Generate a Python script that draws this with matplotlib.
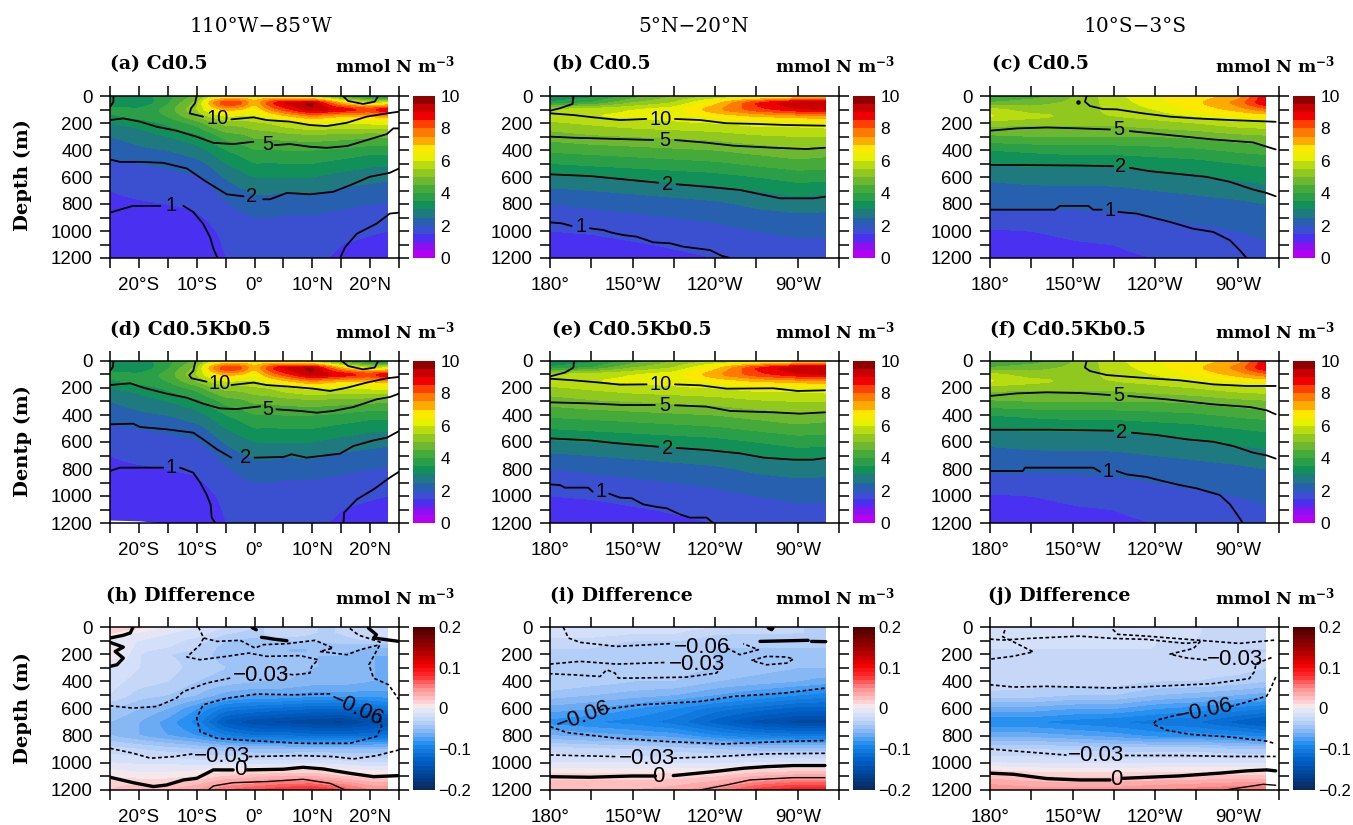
import numpy as np
import matplotlib
matplotlib.use("Agg")
import matplotlib.pyplot as plt
from matplotlib.cm import ScalarMappable
from matplotlib.colors import BoundaryNorm, ListedColormap, LinearSegmentedColormap

W, H = 1353, 825
plt.rcParams["font.family"] = ["Liberation Sans", "DejaVu Sans"]
plt.rcParams["mathtext.fontset"] = "dejavuserif"

# ---- grids
depth = [0, 50, 100, 150, 200, 300, 400, 500, 600, 700, 800, 900, 1000, 1100, 1200]
lat = [-25, -20, -15, -10, -7.5, -5, -2.5, 0, 2.5, 5, 10, 15, 20, 23]
lon = [180, 195, 210, 225, 240, 255, 270, 280]      # degrees east, 280 = 80W
lat_d = [-25, -20, -15, -10, -5, 0, 5, 10, 15, 20, 23]

# ---- shaded fields, one row per column of the section
fill_lat = np.array([
    [3.3, 3.2, 3.7, 3.4, 3.0, 2.5, 2.2, 1.9, 1.7, 1.5, 1.4, 1.3, 1.2, 1.2, 1.2],
    [3.2, 3.0, 3.6, 3.7, 3.2, 2.7, 2.4, 2.0, 1.8, 1.6, 1.45, 1.35, 1.25, 1.2, 1.2],
    [3.8, 3.9, 4.2, 4.0, 3.6, 3.0, 2.5, 2.1, 1.85, 1.65, 1.5, 1.4, 1.3, 1.25, 1.2],
    [4.6, 5.2, 5.5, 5.0, 4.2, 3.3, 2.8, 2.3, 1.95, 1.7, 1.55, 1.45, 1.35, 1.3, 1.25],
    [5.8, 7.5, 6.5, 5.6, 4.8, 3.7, 3.1, 2.6, 2.2, 1.9, 1.7, 1.55, 1.45, 1.35, 1.3],
    [6.2, 8.6, 7.2, 6.0, 5.2, 4.2, 3.5, 3.0, 2.55, 2.2, 1.95, 1.75, 1.6, 1.55, 1.5],
    [6.3, 8.4, 7.0, 5.9, 5.2, 4.3, 3.7, 3.2, 2.8, 2.4, 2.1, 1.9, 1.75, 1.65, 1.6],
    [6.6, 7.0, 6.4, 5.9, 5.4, 4.6, 4.0, 3.5, 3.0, 2.6, 2.25, 2.0, 1.85, 1.75, 1.7],
    [6.2, 8.4, 7.5, 6.3, 5.5, 4.6, 3.95, 3.45, 3.0, 2.6, 2.25, 2.0, 1.8, 1.7, 1.65],
    [5.8, 9.2, 8.2, 6.8, 5.8, 4.7, 4.0, 3.5, 3.0, 2.55, 2.2, 1.95, 1.8, 1.7, 1.6],
    [5.2, 9.7, 9.5, 7.5, 6.2, 4.8, 4.0, 3.5, 3.0, 2.6, 2.2, 1.95, 1.8, 1.65, 1.55],
    [4.0, 7.0, 9.0, 7.0, 6.0, 4.7, 3.9, 3.3, 2.8, 2.4, 2.1, 1.85, 1.65, 1.5, 1.45],
    [3.0, 5.6, 8.5, 7.0, 6.1, 4.6, 3.7, 3.1, 2.7, 2.3, 2.0, 1.75, 1.55, 1.4, 1.35],
    [2.9, 6.0, 9.2, 7.3, 6.2, 4.6, 3.7, 3.1, 2.6, 2.25, 1.95, 1.7, 1.5, 1.35, 1.3],
])
fill_north = np.array([
    [3.0, 3.6, 5.6, 5.8, 5.4, 4.7, 4.1, 3.5, 2.9, 2.4, 2.0, 1.7, 1.5, 1.3, 1.15],
    [3.3, 4.0, 5.8, 6.0, 5.6, 4.9, 4.2, 3.6, 3.0, 2.5, 2.1, 1.8, 1.55, 1.35, 1.2],
    [4.2, 5.0, 6.0, 6.1, 5.8, 5.0, 4.3, 3.7, 3.1, 2.6, 2.2, 1.9, 1.65, 1.45, 1.3],
    [5.0, 5.5, 6.3, 6.2, 5.9, 5.1, 4.4, 3.8, 3.2, 2.7, 2.3, 2.0, 1.75, 1.55, 1.4],
    [5.4, 6.8, 7.4, 6.6, 6.0, 5.2, 4.5, 3.9, 3.3, 2.8, 2.4, 2.1, 1.85, 1.65, 1.5],
    [5.6, 8.6, 8.3, 7.0, 6.2, 5.4, 4.7, 4.1, 3.5, 3.0, 2.6, 2.3, 2.0, 1.8, 1.65],
    [6.0, 9.6, 8.9, 7.2, 6.2, 5.5, 4.9, 4.3, 3.7, 3.2, 2.7, 2.4, 2.1, 1.9, 1.75],
    [6.0, 9.5, 9.1, 7.4, 6.3, 5.5, 4.8, 4.2, 3.7, 3.1, 2.7, 2.35, 2.1, 1.9, 1.75],
])
fill_south = np.array([
    [4.0, 4.5, 5.7, 6.1, 5.2, 4.4, 3.5, 3.0, 2.6, 2.3, 2.1, 1.8, 1.45, 1.3, 1.2],
    [4.2, 4.8, 5.2, 5.7, 5.1, 4.5, 3.6, 3.1, 2.7, 2.35, 2.1, 1.8, 1.5, 1.35, 1.25],
    [5.0, 5.1, 5.3, 5.4, 5.1, 4.5, 3.7, 3.1, 2.7, 2.4, 2.1, 1.85, 1.6, 1.45, 1.35],
    [5.8, 5.7, 5.6, 5.5, 5.1, 4.5, 3.7, 3.1, 2.7, 2.4, 2.15, 1.9, 1.7, 1.5, 1.4],
    [6.5, 6.3, 6.0, 5.7, 5.3, 4.5, 3.8, 3.2, 2.8, 2.5, 2.2, 2.0, 1.8, 1.65, 1.5],
    [6.7, 6.9, 6.6, 6.0, 5.5, 4.6, 3.9, 3.3, 2.9, 2.6, 2.3, 2.1, 1.9, 1.75, 1.6],
    [7.2, 7.7, 7.2, 6.4, 5.8, 4.8, 4.1, 3.5, 3.1, 2.7, 2.4, 2.2, 2.0, 1.85, 1.75],
    [8.8, 9.0, 7.8, 6.6, 5.9, 4.9, 4.2, 3.6, 3.2, 2.8, 2.5, 2.3, 2.1, 1.95, 1.85],
])
diff_lat = np.array([
    [.02, .01, -.005, .01, .01, -.01, -.015, -.02, -.04, -.05, -.05, -.025, -.01, .01, .02],
    [.015, -.005, -.01, -.015, -.02, -.02, -.025, -.035, -.05, -.06, -.06, -.03, -.012, .005, .03],
    [-.005, -.01, -.015, -.02, -.03, -.025, -.03, -.04, -.06, -.075, -.07, -.035, -.012, .005, .03],
    [-.01, -.015, -.025, -.03, -.035, -.035, -.04, -.05, -.08, -.095, -.08, -.04, -.015, .01, .04],
    [-.02, -.03, -.04, -.045, -.045, -.04, -.045, -.065, -.105, -.135, -.10, -.045, -.015, .02, .06],
    [-.03, -.035, -.045, -.05, -.045, -.04, -.05, -.07, -.11, -.15, -.11, -.05, -.015, .025, .07],
    [-.03, -.02, -.04, -.05, -.05, -.045, -.05, -.07, -.115, -.155, -.11, -.05, -.015, .03, .08],
    [-.03, -.03, -.04, -.05, -.05, -.05, -.055, -.075, -.12, -.16, -.115, -.05, -.012, .03, .085],
    [-.03, -.03, -.035, -.045, -.05, -.05, -.055, -.075, -.12, -.165, -.115, -.05, -.015, .02, .07],
    [-.02, -.02, -.03, -.05, -.06, -.06, -.06, -.075, -.115, -.15, -.115, -.05, -.02, .015, .05],
    [-.02, -.015, -.03, -.05, -.06, -.06, -.06, -.075, -.105, -.14, -.11, -.05, -.02, .015, .05],
])
diff_north = np.array([
    [-.012, -.015, -.025, -.03, -.03, -.03, -.03, -.045, -.065, -.085, -.06, -.025, -.01, .015, .03],
    [-.012, -.015, -.025, -.03, -.03, -.03, -.035, -.05, -.07, -.09, -.065, -.028, -.01, .015, .03],
    [-.015, -.02, -.03, -.035, -.035, -.035, -.04, -.055, -.08, -.095, -.07, -.03, -.01, .015, .03],
    [-.015, -.02, -.03, -.035, -.04, -.035, -.04, -.06, -.09, -.105, -.075, -.035, -.012, .015, .035],
    [-.02, -.03, -.035, -.04, -.04, -.04, -.05, -.07, -.105, -.125, -.09, -.04, -.012, .018, .05],
    [-.025, -.03, -.035, -.04, -.045, -.045, -.055, -.08, -.115, -.145, -.10, -.045, -.01, .03, .075],
    [-.03, -.03, -.035, -.04, -.045, -.05, -.06, -.09, -.125, -.155, -.105, -.045, -.008, .035, .09],
    [-.03, -.03, -.035, -.04, -.045, -.05, -.065, -.095, -.125, -.155, -.105, -.045, -.008, .035, .09],
])
diff_south = np.array([
    [-.01, -.012, -.015, -.02, -.02, -.02, -.02, -.035, -.065, -.09, -.065, -.03, -.01, .025, .05],
    [-.012, -.012, -.015, -.02, -.02, -.02, -.025, -.035, -.065, -.09, -.065, -.03, -.012, .02, .045],
    [-.012, -.012, -.015, -.02, -.02, -.02, -.025, -.04, -.07, -.095, -.07, -.032, -.012, .018, .045],
    [-.015, -.015, -.015, -.02, -.02, -.02, -.025, -.04, -.07, -.10, -.075, -.035, -.012, .018, .045],
    [-.015, -.015, -.02, -.02, -.02, -.02, -.03, -.05, -.08, -.105, -.085, -.035, -.012, .02, .05],
    [-.02, -.02, -.02, -.025, -.025, -.025, -.03, -.055, -.085, -.11, -.085, -.035, -.012, .02, .055],
    [-.02, -.02, -.025, -.03, -.03, -.025, -.035, -.06, -.095, -.125, -.09, -.04, -.012, .022, .06],
    [-.025, -.025, -.03, -.03, -.03, -.03, -.04, -.065, -.10, -.135, -.095, -.04, -.012, .022, .06],
])

# ---- contour lines: (x, depth) runs, broken at the labels
lines_a = [
    [(-10, 0), (-10.3, 54), (-11, 92), (-11.2, 129), (-8.9, 153)],
    [(-4, 173), (-.2, 158), (2.1, 178), (6.1, 190), (9.6, 215), (12.5, 223), (16, 198), (19.4, 153), (22.9, 129), (25, 116)],
    [(-25, 178), (-22.7, 166), (-19.8, 190), (-16.9, 228), (-13.5, 257), (-10, 302), (-7.1, 347), (-3.7, 356), (-.2, 339)],
    [(3.5, 364), (6.1, 356), (9.6, 376), (12.5, 384), (16, 371), (19.4, 327), (22.9, 282), (24, 240), (25, 240)],
    [(-25, 470), (-23.3, 488), (-19.8, 488), (-15.8, 495), (-11.7, 537), (-8.3, 636), (-4.8, 728), (-1.9, 743)],
    [(1.5, 765), (2.7, 765), (5.6, 718), (9.6, 728), (13.6, 710), (17, 653), (19.9, 599), (23.4, 569), (25, 537)],
    [(-25, 864), (-23.3, 842), (-21, 814), (-16.3, 814)],
    [(-12.3, 814), (-10.6, 859), (-8.9, 946), (-7.7, 1045), (-7.1, 1131), (-6.4, 1200)],
    [(14.8, 1200), (15.7, 1119), (17.7, 1020), (21.1, 946), (23.4, 871), (25, 864)],
    [(-24.4, 0), (-24.4, 42), (-25, 84)],
    [(15.3, 0), (16.2, 37), (18.8, 59), (20.8, 42), (21.4, 0)],
]
labels_a = [("10", -6.3, 166), ("5", 2.3, 356), ("2", -.5, 747), ("1", -14.4, 814)]

lines_b = [
    [(180, 128), (188.5, 141), (195.7, 158), (205.4, 178), (215, 170)],
    [(225.4, 170), (234.5, 178), (244.2, 202), (255, 207), (266, 215), (279.9, 220)],
    [(180, 301), (188.5, 309), (200.6, 316), (217.5, 326)],
    [(225.4, 326), (236.9, 346), (246.6, 368), (261, 383), (273.2, 393), (279.9, 383)],
    [(180, 580), (194.5, 593), (206.7, 617), (219.3, 642)],
    [(226, 654), (236.9, 672), (249, 696), (257.7, 733), (263.7, 758), (275.9, 758), (279.9, 746)],
    [(180, 936), (184.2, 943), (187.9, 963)],
    [(194.5, 980), (199.4, 993), (202.4, 1012), (206.6, 1030), (211.5, 1042), (217.5, 1084), (223.6, 1091),
     (228.4, 1116), (238.1, 1141), (242.3, 1183), (245.4, 1200)],
    [(188.5, 0), (188.2, 59), (183.6, 91), (180, 109)],
]
labels_b = [("10", 220.2, 172), ("5", 221.8, 331), ("2", 222.6, 659), ("1", 191.4, 968)]

lines_c = [
    [(215.1, 0), (214.5, 42), (216.3, 74), (221.2, 97), (226, 99), (235.7, 129), (245.4, 153), (255, 166), (267.2, 178), (283.8, 191)],
    [(180, 257), (189.7, 240), (200.6, 233), (212.7, 240), (223.6, 248)],
    [(230.8, 260), (245.4, 290), (261.1, 322), (275.6, 344), (283.8, 396)],
    [(180, 510), (194.5, 512), (212.7, 515), (224.8, 520)],
    [(230.8, 532), (238.1, 557), (246.6, 574), (258.7, 599), (267.2, 636), (275.6, 693), (280.5, 718), (283.8, 743)],
    [(180, 842), (203.6, 842), (205.4, 814), (215.7, 814), (217.5, 842), (220.6, 842)],
    [(226.6, 859), (233.3, 871), (240.5, 908), (245.4, 933), (253.8, 983), (261.1, 1007), (267.2, 1069), (270.8, 1144), (273.2, 1200)],
]
labels_c = [("5", 226.9, 248), ("2", 227.6, 525), ("1", 223.6, 847)]
speck_c = (211.8, 42)

lines_d = [
    [(-10.2, 0), (-10.6, 74), (-11.3, 104), (-10.9, 128), (-8.3, 153)],
    [(-4, 178), (-.2, 160), (2.1, 178), (6.1, 190), (10.2, 205), (13.1, 222), (16, 198), (19.4, 160), (22.9, 128), (25, 118)],
    [(-25, 178), (-21.5, 165), (-19.2, 198), (-15.2, 242), (-11.7, 272), (-8.9, 316), (-6, 351), (-3.1, 356), (1, 336)],
    [(3.8, 358), (7.9, 370), (10.8, 383), (13.6, 370), (17.1, 341), (21.1, 284), (23.4, 267), (25, 242)],
    [(-25, 469), (-21, 464), (-19.8, 489), (-15.2, 506), (-10.6, 531), (-8.9, 580), (-6.5, 654), (-4, 716)],
    [(0, 716), (5, 711), (6.4, 691), (9, 716), (14.8, 686), (17.1, 630), (20.6, 588), (22.9, 568), (25, 519)],
    [(-25, 815), (-23.3, 790), (-15.8, 790)],
    [(-12.9, 790), (-10.6, 827), (-9.4, 901), (-8.3, 988), (-7.6, 1062), (-7.4, 1160), (-6.8, 1200)],
    [(15.4, 1200), (15.5, 1123), (17.7, 1025), (20.6, 951), (23.4, 864), (25, 820)],
    [(-24.4, 0), (-24.5, 44), (-25, 74)],
    [(15.1, 0), (16.2, 37), (18.8, 62), (20.8, 49), (21.4, 0)],
]
labels_d = [("10", -6.1, 168), ("5", 2.3, 358), ("2", -1.5, 716), ("1", -14.5, 790)]
# missing cells along the sea floor in panel d
hole_d_x = [-25, -20, -15.8]
hole_d_top = [1178, 1184, 1200]

lines_e = [
    [(180, 131), (188.5, 143), (198.2, 160), (205.4, 175), (215.1, 173)],
    [(225.4, 173), (234.5, 180), (244.2, 205), (261.1, 202), (270, 222), (279.9, 217)],
    [(180, 306), (194.5, 314), (206.6, 326), (218.1, 326)],
    [(225.4, 328), (236.9, 338), (245.4, 370), (261.1, 380), (270.8, 390), (279.9, 380)],
    [(180, 573), (194.5, 588), (203, 607), (219.3, 635)],
    [(226, 644), (236.9, 659), (249, 684), (257.7, 716), (268.5, 731), (275.6, 731), (279.9, 719)],
    [(180, 914), (183.6, 919), (185.4, 938), (193.9, 938), (195.5, 968)],
    [(201.5, 983), (205.4, 1012), (209.7, 1017), (213.9, 1062), (218.8, 1081), (222.4, 1091), (227.2, 1136),
     (230.8, 1160), (236.9, 1160), (239.3, 1200)],
    [(188.7, 0), (188.5, 49), (185.4, 86), (180, 114)],
]
labels_e = [("10", 220.2, 173), ("5", 221.8, 326), ("2", 222.6, 647), ("1", 198.4, 968)]

lines_f = [
    [(215.1, 0), (214.5, 49), (216.3, 74), (222.4, 104), (234.5, 123), (249, 143), (261.1, 173), (273.2, 185), (283.8, 185)],
    [(180, 259), (189.7, 240), (200.6, 232), (212.7, 237), (223.6, 252)],
    [(230.2, 259), (244.2, 284), (261.1, 321), (274.4, 341), (280.5, 365), (283.8, 395)],
    [(180, 509), (200.6, 509), (224.8, 516)],
    [(231.5, 531), (240.5, 548), (251.4, 580), (261.1, 598), (268.4, 630), (275.6, 679), (280.5, 699), (283.8, 723)],
    [(180, 815), (191.9, 815), (192.7, 790), (217.5, 790), (220, 820)],
    [(226, 815), (229.6, 840), (236.9, 859), (241.7, 884), (249, 919), (255, 943), (263.5, 993), (267.2, 1062), (271.4, 1185), (271.6, 1200)],
]
labels_f = [("5", 226.9, 254), ("2", 227.8, 533), ("1", 223, 815)]

zero_h = [
    [(-25, 1106), (-21, 1146), (-17.5, 1175), (-15.2, 1163), (-12.3, 1126), (-10, 1114), (-7.1, 1052), (-3.7, 1052)],
    [(-1.4, 1052), (5, 1047), (8.4, 1033), (11.9, 1045), (16.5, 1077), (20.6, 1102), (25, 1094)],
    [(-21, 0), (-21.5, 44), (-22.7, 61), (-25, 81)],
    [(-25, 113), (-22.7, 148), (-24.1, 180), (-22.7, 229), (-23.8, 278), (-25, 290)],
    [(19.7, 7), (21.1, 57), (20.6, 81), (25, 106)],
    [(1.2, 76), (2.1, 81), (3.3, 89), (5.6, 101)],
    [(-.4, 5), (.3, 20)],
]
thin_h = [[(-8, 1200), (-7.1, 1170), (-3.7, 1146), (2.1, 1138), (8.4, 1121), (13.1, 1151), (15.7, 1200)]]
dash_h = [
    [(-9.7, 0), (-8.8, 81), (-6.5, 106), (-2.5, 98), (.1, 155), (1.5, 130), (5.6, 123), (10.5, 98), (13.6, 155),
     (11.3, 180), (16, 204), (18.3, 167), (21.7, 130)],
    [(16.5, 10), (18, 60), (21.7, 110), (21.7, 130), (19.8, 278), (20.6, 376), (23.2, 425), (25, 536)],
    [(-8.8, 81), (-9.4, 130), (-11.7, 221), (-9.4, 241), (-4.8, 216), (-1, 192), (2.1, 216), (7.9, 211), (11, 241),
     (9.9, 290), (9.6, 339), (6.7, 352), (4.4, 339)],
    [(-4.2, 376), (-8.3, 413), (-12.3, 475), (-13.5, 524), (-16.9, 585), (-21, 597), (-25, 580)],
    [(13.1, 492), (6.7, 499), (.4, 494), (-4.8, 524), (-8.9, 573), (-10, 671), (-9.4, 770), (-6.5, 819), (-.8, 836),
     (7.9, 856), (16.5, 856), (21.1, 806), (22, 733), (21.4, 634)],
    [(-25, 893), (-21, 929), (-18, 966), (-14, 954), (-10.6, 934)],
    [(-1, 954), (7.9, 947), (13.6, 954), (17.1, 971), (21.1, 947), (25, 905)],
]
labels_h = [("\u22120.03", 1.2, 359, 0), ("\u22120.06", 17.7, 610, -24), ("\u22120.03", -5.7, 954, 0), ("0", -2.5, 1052, 0)]

zero_i = [
    [(180, 1102), (194.5, 1106), (209.8, 1097), (218.3, 1097)],
    [(224.8, 1094), (239.3, 1065), (250.2, 1040), (258.7, 1028), (268.4, 1020), (279.9, 1020)],
    [(256.3, 106), (273.8, 98)],
    [(275, 106), (280.2, 108)],
    [(259.3, 7), (260.5, 20), (261, 7)],
]
thin_i = [[(234.5, 1200), (244.2, 1163), (252.6, 1126), (268.4, 1109), (279.9, 1109)]]
dash_i = [
    [(180, 942), (204.2, 954)],
    [(224.8, 966), (240.5, 954), (258.7, 934), (279.9, 930)],
    [(198.2, 610), (212.7, 573), (234.5, 548), (246.6, 511), (264.7, 487), (279.9, 450)],
    [(180, 733), (186.1, 777), (204.2, 819), (222.4, 843), (243, 861), (264.7, 843), (279.9, 836)],
    [(184.8, 0), (186.7, 81), (190.9, 113), (204.2, 143), (223.6, 123)],
    [(244.2, 155), (249, 204), (255.7, 167), (250.2, 123)],
    [(180, 273), (190.9, 253), (204.2, 273), (222.4, 261)],
    [(242.4, 290), (240.5, 339), (229.6, 369), (210.3, 376), (204.8, 376), (203.6, 339), (200.6, 315), (198.2, 364),
     (188.5, 352), (180, 344)],
    [(253.2, 246), (258.7, 216), (266, 221), (268.4, 236), (266, 266), (258.7, 278), (253.2, 246)],
]
labels_i = [("\u22120.06", 192.1, 660, 20), ("\u22120.06", 235.1, 148, 0), ("\u22120.03", 233.3, 278, 0),
            ("\u22120.03", 215.1, 966, 0), ("0", 219.3, 1097, 0)]

zero_j = [
    [(180, 1076), (188.5, 1084), (200.6, 1116), (212.7, 1126), (223.6, 1126)],
    [(228.4, 1114), (249, 1096), (263.5, 1076), (273.2, 1059), (280.5, 1052), (283.8, 1059)],
]
thin_j = [[(265.4, 1200), (279.3, 1158), (283.8, 1165)]]
dash_j = [
    [(185.4, 22), (184.6, 72), (188.5, 109), (195.7, 183), (188.5, 215), (180, 237)],
    [(180, 89), (184.6, 96), (194.3, 84), (212.5, 67), (224.6, 84), (236.7, 91), (251.2, 121), (256.3, 109),
     (253.9, 158), (245.4, 200), (251.2, 227), (259.6, 244)],
    [(224.6, 17), (226.4, 54), (236.7, 67), (254.9, 96), (270.6, 121), (276.7, 109), (283.8, 96)],
    [(282.3, 225), (276.7, 269), (276, 331), (274.2, 380), (260.8, 417), (242.9, 434), (224.8, 449), (200.6, 437),
     (188.5, 442), (180, 425)],
    [(283.8, 368), (281.7, 465), (280.5, 509), (267.2, 588)],
    [(249, 642), (240.5, 686), (239.3, 716), (244.2, 760), (252.6, 790), (267.2, 810), (280.5, 840), (283.8, 860)],
    [(180, 898), (190.9, 916), (207.8, 943)],
    [(229, 946), (249, 946), (267.2, 953), (283.8, 953)],
]
labels_j = [("\u22120.03", 269, 240, 0), ("\u22120.06", 258.1, 617, 12), ("\u22120.03", 218.7, 946, 0), ("0", 225.8, 1121, 0)]

# ---- colours
conc_levels = np.arange(0, 10.01, 0.5)
conc_colors = ["#B400F5", "#8A12F0", "#4A30F0", "#3A50D0", "#2860B0", "#1F7A80", "#12905A",
               "#2A9F48", "#45AA3A", "#6DB830", "#90C820", "#B8DC10", "#E8F000", "#FFE800",
               "#FFAA00", "#FF7A00", "#FF4000", "#F00000", "#C80000", "#900000"]
conc_cmap = ListedColormap(conc_colors)

diff_levels = np.arange(-0.2, 0.2001, 0.01)
diff_nodes = [(0, "#0A2A60"), (.075, "#004090"), (.175, "#0060C8"), (.275, "#1E8CF0"), (.35, "#80B4F4"),
              (.425, "#C0D4F8"), (.475, "#DCE4FA"), (.5125, "#F4E8EC"), (.55, "#FFC8C8"), (.625, "#FF9090"),
              (.7, "#FF3030"), (.775, "#F00000"), (.875, "#A00000"), (1, "#500000")]
diff_cmap = LinearSegmentedColormap.from_list("diff", diff_nodes, N=40)

lat_ticks = np.arange(-25, 26, 5)
lat_ticklabels = ["", "20\u00b0S", "", "10\u00b0S", "", "0\u00b0", "", "10\u00b0N", "", "20\u00b0N", ""]
lon_ticks = np.arange(180, 286, 15)
lon_ticklabels = ["180\u00b0", "", "150\u00b0W", "", "120\u00b0W", "", "90\u00b0W", ""]

columns = [(110, 413), (550, 853), (990, 1293)]   # left edge of panel, left edge of colour bar
rows = [(96, 258), (361, 523), (627, 790)]


def fx(px):
    return px / W


def fy(py):
    return 1 - py / H


def soften(x, field):
    # the original is a fine model grid, so round off the corners of the coarse readings
    fine_x = np.linspace(x[0], x[-1], 200)
    fine_d = np.linspace(0, 1200, 241)
    grid = np.array([np.interp(fine_d, depth, col) for col in np.asarray(field)])
    grid = np.array([np.interp(fine_x, x, row) for row in grid.T])
    for axis, n in ((1, 7), (0, 5)):
        pad = [(0, 0), (0, 0)]
        pad[axis] = (n // 2, n // 2)
        padded = np.pad(grid, pad, mode="edge")
        grid = np.apply_along_axis(lambda v: np.convolve(v, np.ones(n) / n, mode="valid"), axis, padded)
    return fine_x, fine_d, grid


def draw_runs(ax, runs, **kw):
    for run in runs:
        xs, ds = zip(*run)
        ax.plot(xs, ds, solid_capstyle="round", **kw)


def put_labels(ax, labels, size):
    for item in labels:
        txt, x, d = item[:3]
        rot = item[3] if len(item) > 3 else 0
        ax.text(x, d, txt, ha="center", va="center", rotation=rot, fontsize=size, color="black", clip_on=True)


def panel(col, row, x, field, levels, cmap, xlim, ticks, ticklabels):
    left, cbar_left = columns[col]
    top, bottom = rows[row]
    ax = fig.add_axes([fx(left), fy(bottom), fx(289), (bottom - top) / H])
    xf, df, grid = soften(x, field)
    ax.contourf(xf, df, grid, levels=levels, cmap=cmap, norm=BoundaryNorm(levels, cmap.N))
    ax.set_xlim(*xlim)
    ax.set_ylim(1200, 0)
    ax.set_xticks(ticks)
    ax.set_xticklabels(ticklabels)
    ax.set_yticks(np.arange(0, 1201, 100))
    ax.set_yticklabels([str(v) if v % 200 == 0 else "" for v in range(0, 1201, 100)])
    ax.tick_params(direction="out", length=7, width=1.1, labelsize=13.5,
                   top=True, right=True, bottom=True, left=True)
    ax.tick_params(axis="x", pad=6.5)
    ax.tick_params(axis="y", pad=5.5)
    for s in ax.spines.values():
        s.set_linewidth(1.1)
    return ax


def colorbar(col, row, cmap, levels, ticks, ticklabels, size, pad):
    left, cbar_left = columns[col]
    top, bottom = rows[row]
    cax = fig.add_axes([fx(cbar_left), fy(bottom), fx(22), (bottom - top) / H])
    sm = ScalarMappable(norm=BoundaryNorm(levels, cmap.N), cmap=cmap)
    cb = fig.colorbar(sm, cax=cax, spacing="proportional", ticks=ticks)
    cb.ax.set_yticklabels(ticklabels)
    cb.ax.tick_params(which="both", length=0, labelsize=size, pad=pad)
    cb.ax.minorticks_off()
    cb.outline.set_visible(False)


fig = plt.figure(figsize=(W / 100, H / 100), dpi=100)

serif_bold = dict(family="DejaVu Serif", fontweight="bold", color="black")
headers = [("110\u00b0W\u221285\u00b0W", 261), ("5\u00b0N\u221220\u00b0N", 694), ("10\u00b0S\u22123\u00b0S", 1135)]
for txt, cx in headers:
    fig.text(fx(cx), fy(26), txt, ha="center", va="center", family="DejaVu Serif", fontsize=14.5, color="black")

for txt, cy in [("Depth (m)", 175), ("Dentp (m)", 441), ("Depth (m)", 708)]:
    fig.text(fx(23), fy(cy), txt, ha="center", va="center", rotation=90, fontsize=14, **serif_bold)

titles = [
    ("(a) Cd0.5", 110, 64), ("(b) Cd0.5", 552, 64), ("(c) Cd0.5", 992, 64),
    ("(d) Cd0.5Kb0.5", 110, 330), ("(e) Cd0.5Kb0.5", 552, 330), ("(f) Cd0.5Kb0.5", 990, 330),
    ("(h) Difference", 106, 596), ("(i) Difference", 550, 596), ("(j) Difference", 988, 596),
]
for txt, px, py in titles:
    fig.text(fx(px), fy(py), txt, ha="left", va="center", fontsize=13.6, **serif_bold)
for py in (65, 331, 597):
    for px in (455, 895, 1335):
        fig.text(fx(px), fy(py), r"mmol N m$^{\mathbf{-3}}$", ha="right", va="center", fontsize=12.4, **serif_bold)

lat_range = (-25, 25)
lon_range = (180, 285)
conc_ticks = [0, 2, 4, 6, 8, 10]
conc_ticklabels = ["0", "2", "4", "6", "8", "10"]
diff_ticks = [-0.2, -0.1, 0, 0.1, 0.2]
diff_ticklabels = ["\u22120.2", "\u22120.1", "0", "0.1", "0.2"]

top_panels = [
    (0, 0, lat, fill_lat, lat_range, lat_ticks, lat_ticklabels, lines_a, labels_a),
    (1, 0, lon, fill_north, lon_range, lon_ticks, lon_ticklabels, lines_b, labels_b),
    (2, 0, lon, fill_south, lon_range, lon_ticks, lon_ticklabels, lines_c, labels_c),
    (0, 1, lat, fill_lat, lat_range, lat_ticks, lat_ticklabels, lines_d, labels_d),
    (1, 1, lon, fill_north, lon_range, lon_ticks, lon_ticklabels, lines_e, labels_e),
    (2, 1, lon, fill_south, lon_range, lon_ticks, lon_ticklabels, lines_f, labels_f),
]
for col, row, x, field, xlim, ticks, ticklabels, lines, labels in top_panels:
    ax = panel(col, row, x, field, conc_levels, conc_cmap, xlim, ticks, ticklabels)
    draw_runs(ax, lines, color="black", lw=1.3)
    put_labels(ax, labels, 14.5)
    colorbar(col, row, conc_cmap, conc_levels, conc_ticks, conc_ticklabels, 12.5, 4)
    if (col, row) == (2, 0):
        ax.plot(*speck_c, "o", color="black", ms=2.2)
    if (col, row) == (0, 1):
        ax.fill_between(hole_d_x, hole_d_top, 1200, color="white", lw=0)

bottom_panels = [
    (0, lat_d, diff_lat, lat_range, lat_ticks, lat_ticklabels, zero_h, thin_h, dash_h, labels_h),
    (1, lon, diff_north, lon_range, lon_ticks, lon_ticklabels, zero_i, thin_i, dash_i, labels_i),
    (2, lon, diff_south, lon_range, lon_ticks, lon_ticklabels, zero_j, thin_j, dash_j, labels_j),
]
for col, x, field, xlim, ticks, ticklabels, zero, thin, dash, labels in bottom_panels:
    ax = panel(col, 2, x, field, diff_levels, diff_cmap, xlim, ticks, ticklabels)
    draw_runs(ax, zero, color="black", lw=2.4)
    draw_runs(ax, thin, color="black", lw=1.0)
    for run in dash:
        xs, ds = zip(*run)
        ax.plot(xs, ds, color="black", lw=1.2, ls=(0, (2.2, 1.5)))
    put_labels(ax, labels, 16)
    colorbar(col, 2, diff_cmap, diff_levels, diff_ticks, diff_ticklabels, 12, 2.5)

fig.savefig("out.png", dpi=100)
